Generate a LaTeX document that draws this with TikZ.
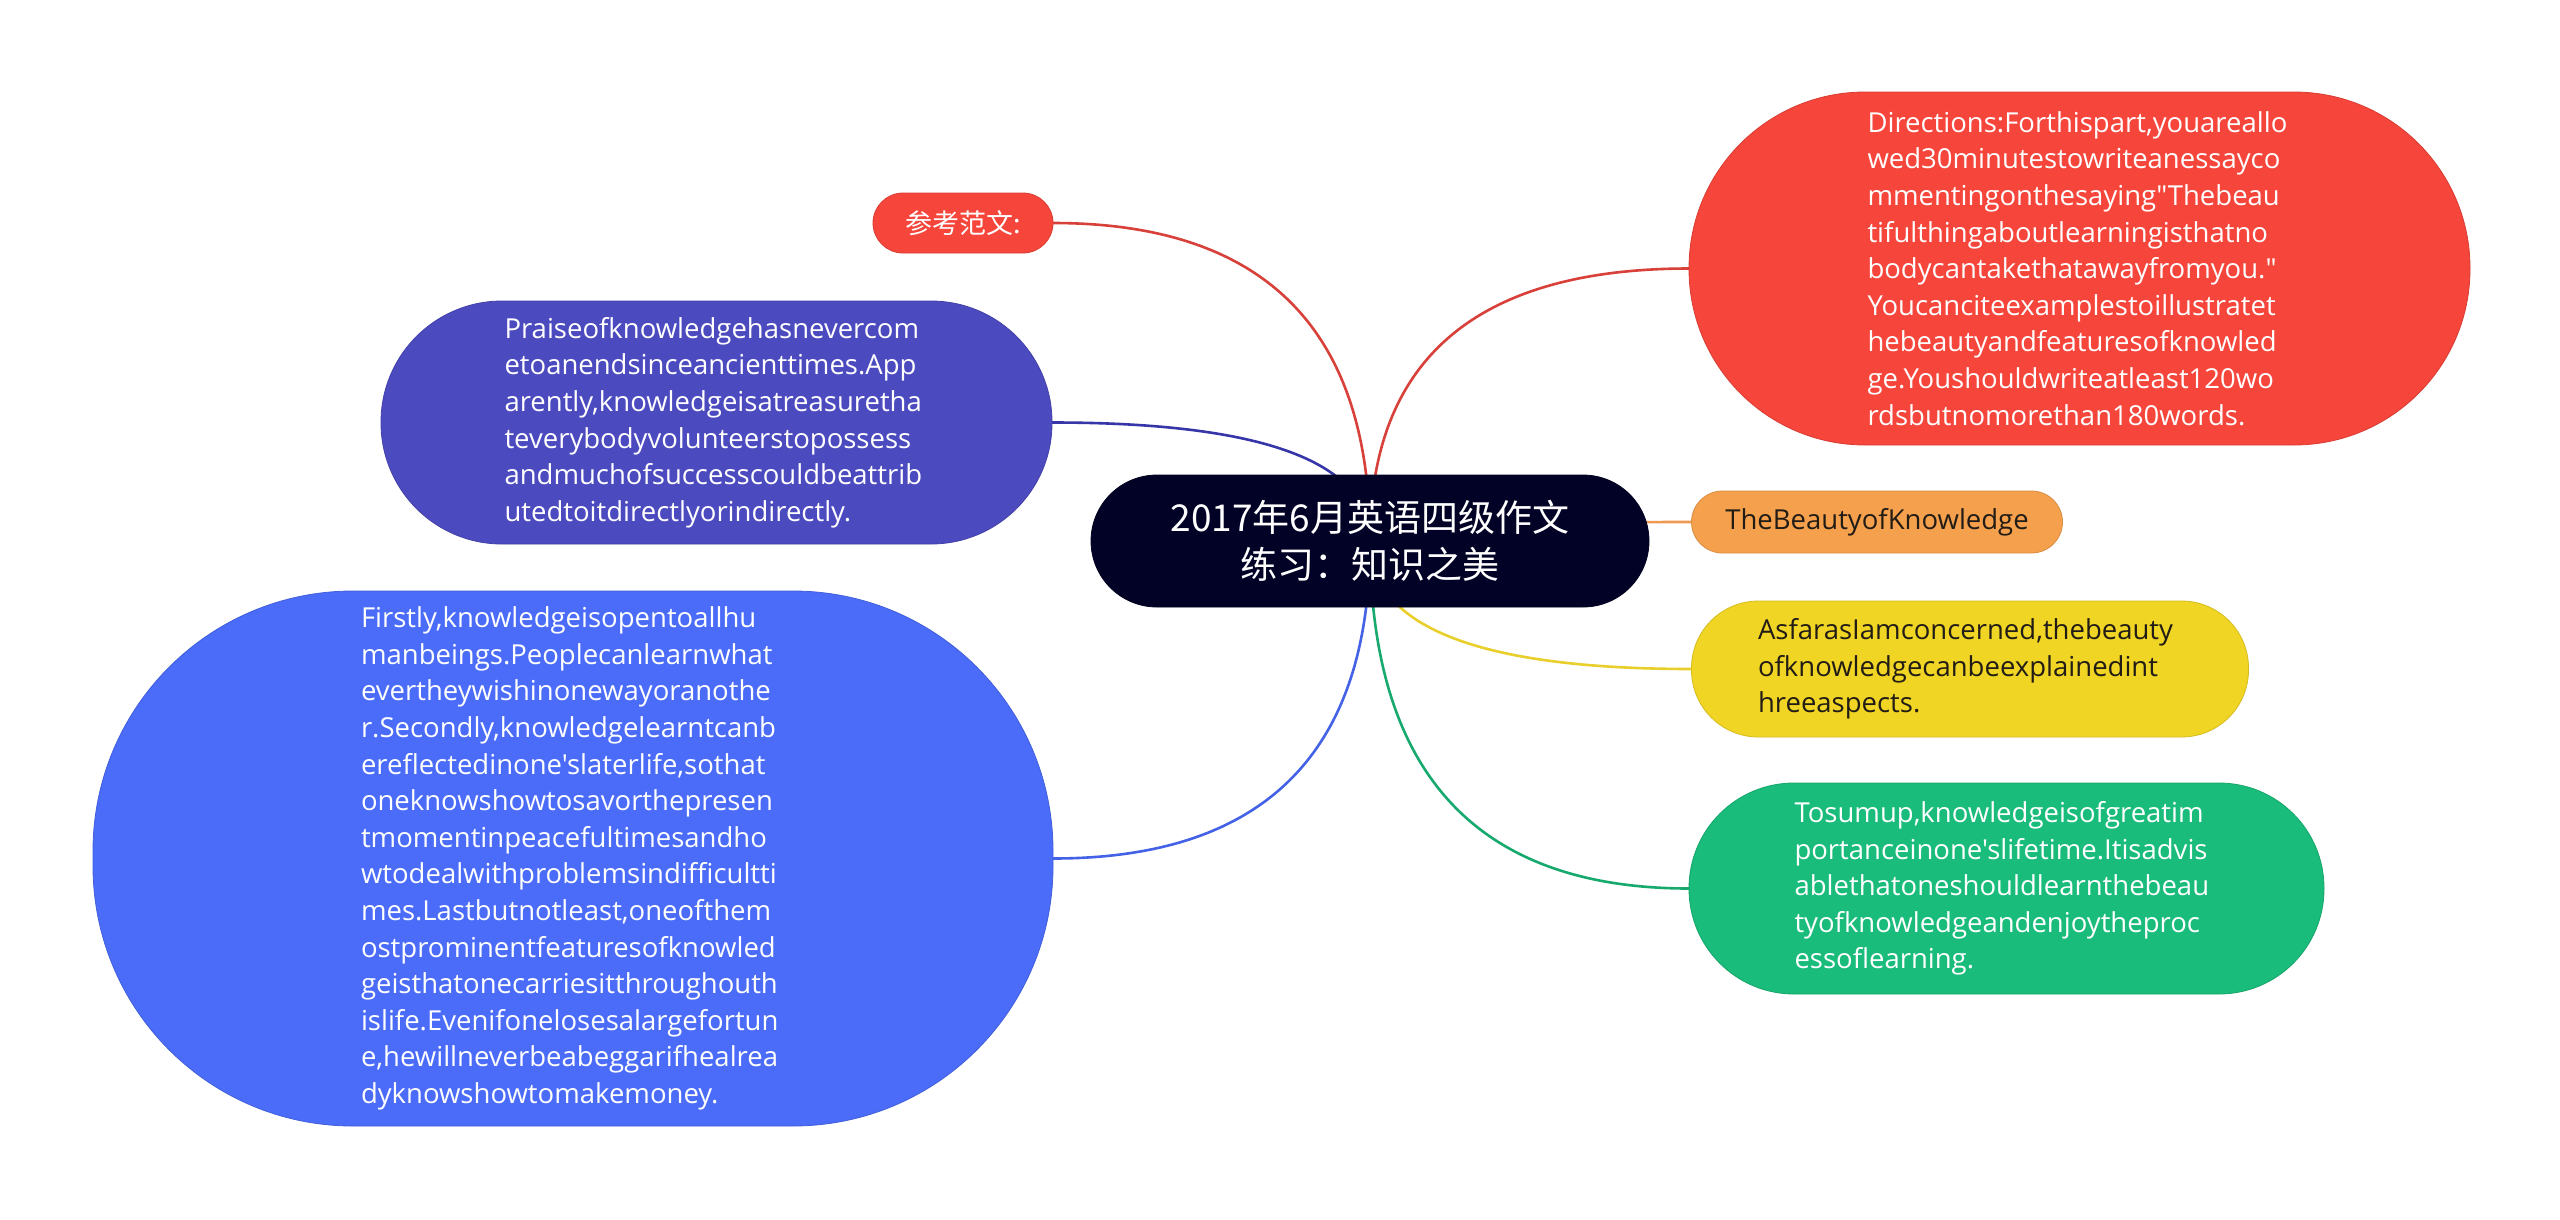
\documentclass[tikz,border=0pt]{standalone}
\usepackage{fontspec}
\newfontfamily\bodyfont{Open Sans}
\newfontfamily\cjk{Noto Sans CJK SC}
\usetikzlibrary{calc}
\pgfdeclarelayer{bg}
\pgfsetlayers{bg,main}
\hyphenpenalty=10000
\exhyphenpenalty=10000
\hbadness=10000
\hfuzz=200pt
\definecolor{cRoot}{HTML}{020226}
\definecolor{cRed}{HTML}{F6453B}
\definecolor{cRedL}{HTML}{D8403A}
\definecolor{cIndigo}{HTML}{4C4ABF}
\definecolor{cIndigoL}{HTML}{3636A8}
\definecolor{cBlue}{HTML}{4A6CF8}
\definecolor{cBlueL}{HTML}{4462E6}
\definecolor{cOrange}{HTML}{F5A04C}
\definecolor{cOrangeL}{HTML}{EE9A52}
\definecolor{cYellow}{HTML}{F0D524}
\definecolor{cYellowL}{HTML}{E9CF2C}
\definecolor{cGreen}{HTML}{19BC7A}
\definecolor{cGreenL}{HTML}{17A96D}
\definecolor{cDark}{HTML}{221C16}
\tikzset{
  every node/.style={inner sep=0pt, outer sep=0pt},
  pill/.style 2 args={fill=#1, draw=#1!88!black, line width=0.8pt, rounded corners=#2pt},
  textbox/.style={text width=424pt, align=left, font=\bodyfont\fontsize{27.5}{36.6}\selectfont},
  link/.style={line width=2.6pt, draw=#1}
}
\newcommand\linkto[3]{%
  \draw[link=#1] (#2) .. controls ($(#2)!0.6667!(#3.center |- #2)$) and ($(#3.center)!0.6667!(#3.center |- #2)$) .. (#3.center);}
\begin{document}
\begin{tikzpicture}[x=1pt,y=-1pt]
\useasboundingbox (0,0) rectangle (2560,1219);

% root
\node[pill={cRoot}{66}, minimum width=558pt, minimum height=132pt, text=white, align=center,
  font=\cjk\fontsize{37}{47}\selectfont] (root) at (1370,541)
  {2017年6月英语四级作文\\练习：知识之美};

% left children
\node[pill={cRed}{30}, minimum width=180pt, minimum height=60pt, text=white,
  font=\cjk\fontsize{27}{34}\selectfont] (ref) at (963,223) {参考范文:};

\node[pill={cIndigo}{121}, textbox, text=white, minimum width=671pt, minimum height=243pt] (praise) at (716.5,422.5)
  {Praiseofknowledgehasnevercom\\
   etoanendsinceancienttimes.App\\
   arently,knowledgeisatreasuretha\\
   teverybodyvolunteerstopossess\\
   andmuchofsuccesscouldbeattrib\\
   utedtoitdirectlyorindirectly.};

\node[pill={cBlue}{260}, textbox, text=white, minimum width=960pt, minimum height=535pt] (first) at (573,858.5)
  {Firstly,knowledgeisopentoallhu\\
   manbeings.Peoplecanlearnwhat\\
   evertheywishinonewayoranothe\\
   r.Secondly,knowledgelearntcanb\\
   ereflectedinone'slaterlife,sothat\\
   oneknowshowtosavorthepresen\\
   tmomentinpeacefultimesandho\\
   wtodealwithproblemsindifficultti\\
   mes.Lastbutnotleast,oneofthem\\
   ostprominentfeaturesofknowled\\
   geisthatonecarriesitthroughouth\\
   islife.Evenifonelosesalargefortun\\
   e,hewillneverbeabeggarifhealrea\\
   dyknowshowtomakemoney.};

% right children
\node[pill={cRed}{176}, textbox, text=white, minimum width=781pt, minimum height=353pt] (dir) at (2079.5,268.5)
  {Directions:Forthispart,youareallo\\
   wed30minutestowriteanessayco\\
   mmentingonthesaying"Thebeau\\
   tifulthingaboutlearningisthatno\\
   bodycantakethatawayfromyou."\\
   Youcanciteexamplestoillustratet\\
   hebeautyandfeaturesofknowled\\
   ge.Youshouldwriteatleast120wo\\
   rdsbutnomorethan180words.};

\node[pill={cOrange}{31}, minimum width=371pt, minimum height=62pt, text=cDark,
  font=\bodyfont\fontsize{27.5}{36.6}\selectfont] (beauty) at (1877,522) {TheBeautyofKnowledge};

\node[pill={cYellow}{67}, textbox, text=cDark, minimum width=557pt, minimum height=136pt] (asfar) at (1970,669)
  {AsfarasIamconcerned,thebeauty\\
   ofknowledgecanbeexplainedint\\
   hreeaspects.};

\node[pill={cGreen}{105}, textbox, text=white, minimum width=635pt, minimum height=211pt] (sum) at (2006.5,888.5)
  {Tosumup,knowledgeisofgreatim\\
   portanceinone'slifetime.Itisadvis\\
   ablethatoneshouldlearnthebeau\\
   tyofknowledgeandenjoytheproc\\
   essoflearning.};

\begin{pgfonlayer}{bg}
\fill[white] (0,0) rectangle (2560,1219);
\linkto{cRedL}{ref.east}{root}
\linkto{cIndigoL}{praise.east}{root}
\linkto{cBlueL}{first.east}{root}
\linkto{cRedL}{dir.west}{root}
\linkto{cOrangeL}{beauty.west}{root}
\linkto{cYellowL}{asfar.west}{root}
\linkto{cGreenL}{sum.west}{root}
\end{pgfonlayer}
\end{tikzpicture}
\end{document}
